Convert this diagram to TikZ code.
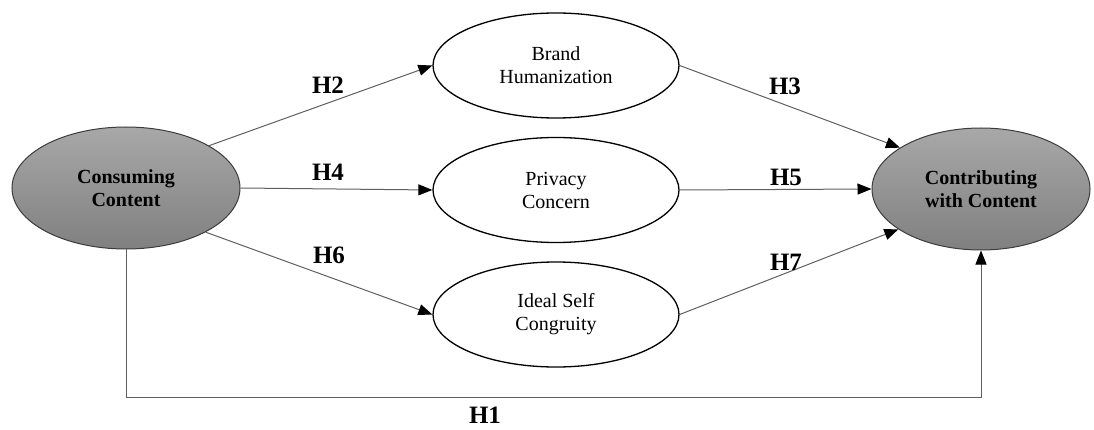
\documentclass[tikz,border=0pt]{standalone}
\usepackage{fontspec}
\setmainfont{Liberation Serif}
\usetikzlibrary{shapes.geometric,arrows.meta}
\definecolor{linegray}{RGB}{95,95,95}
\definecolor{filltop}{RGB}{168,168,168}
\definecolor{fillbot}{RGB}{128,128,128}
\tikzset{
  construct/.style={ellipse,draw=black,line width=1.3pt,fill=white,inner sep=0pt,
    minimum width=246pt,minimum height=105pt,align=center,
    font=\fontsize{20}{23}\selectfont},
  keyvar/.style={ellipse,draw={rgb,255:red,60;green,60;blue,60},line width=1pt,
    top color=filltop,bottom color=fillbot,inner sep=0pt,
    minimum width=228pt,minimum height=122pt,align=center,
    font=\fontsize{20}{23}\selectfont\bfseries},
  path/.style={draw=linegray,line width=1pt,-{Triangle[length=14pt,width=11pt,color=black]}},
  hlabel/.style={font=\fontsize{25}{28}\selectfont\bfseries,inner sep=0pt}
}
\begin{document}
\begin{tikzpicture}[x=1pt,y=-1pt]
\useasboundingbox (0,0) rectangle (1094,430);
\node[keyvar] (cons) at (126,188) {Consuming\\Content};
\node[keyvar,minimum width=218pt] (contr) at (981,189) {Contributing\\with Content};
\node[construct] (brand) at (556,65.5) {Brand\\Humanization};
\node[construct] (priv) at (556,190) {Privacy\\Concern};
\node[construct] (ideal) at (556,314.5) {Ideal Self\\Congruity};
\coordinate (low) at (0,397);
\draw[path] (cons.27) -- (brand.west);
\draw[path] (cons.east) -- (priv.west);
\draw[path] (cons.-29) -- (ideal.west);
\draw[path] (brand.east) -- (contr.153);
\draw[path] (priv.east) -- (contr.west);
\draw[path] (ideal.east) -- (contr.206);
\draw[path] (cons.south) -- (cons.south |- low) -| (contr.south);
\node[hlabel] (h2) at (328,85) {H2};
\node[hlabel] (h3) at (785,86) {H3};
\node[hlabel] (h4) at (328,172) {H4};
\node[hlabel] (h5) at (786,177) {H5};
\node[hlabel] (h6) at (329,255) {H6};
\node[hlabel] (h7) at (786,262) {H7};
\node[hlabel] (h1) at (485,415) {H1};
\end{tikzpicture}
\end{document}
